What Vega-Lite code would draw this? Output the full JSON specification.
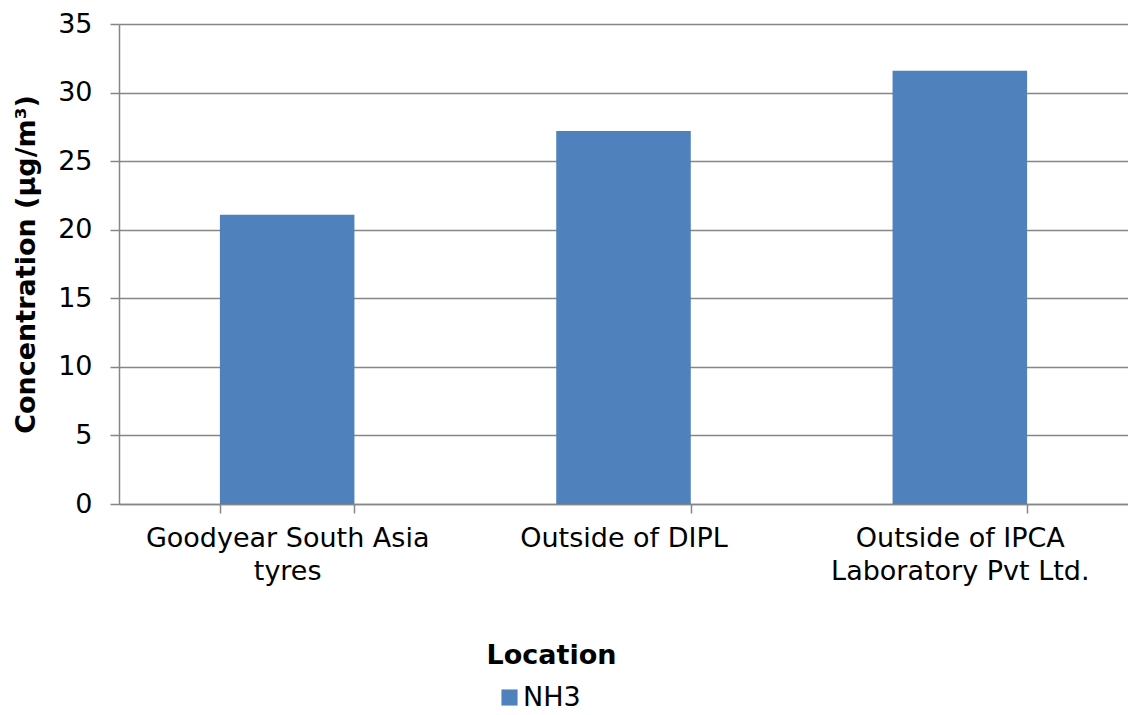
{
  "$schema": "https://vega.github.io/schema/vega-lite/v6.json",
  "width": 1009,
  "height": 480,
  "autosize": {"type": "none"},
  "padding": {"left": 119, "top": 24, "right": 0, "bottom": 211},
  "background": "white",
  "data": {
    "values": [
      {"location": "Goodyear South Asia tyres", "series": "NH3", "value": 21.1},
      {"location": "Outside of DIPL", "series": "NH3", "value": 27.2},
      {"location": "Outside of IPCA Laboratory Pvt Ltd.", "series": "NH3", "value": 31.6}
    ]
  },
  "config": {
    "view": {"stroke": null},
    "font": "DejaVu Sans",
    "axis": {
      "labelFont": "DejaVu Sans",
      "titleFont": "DejaVu Sans",
      "labelColor": "black",
      "titleColor": "black",
      "domainColor": "#868686",
      "tickColor": "#868686",
      "gridColor": "#868686",
      "domainWidth": 1.5,
      "tickWidth": 1.5,
      "gridWidth": 1.5,
      "labelLimit": 0
    }
  },
  "mark": {"type": "bar", "color": "#4F81BD"},
  "encoding": {
    "x": {
      "field": "location",
      "type": "nominal",
      "sort": null,
      "scale": {"paddingInner": 0.6, "paddingOuter": 0.3},
      "axis": {
        "title": "Location",
        "titleFontSize": 27,
        "titleFontWeight": "bold",
        "titleX": 432,
        "titleY": 151,
        "titleBaseline": "middle",
        "labelAngle": 0,
        "labelFontSize": 27,
        "labelPadding": 12,
        "labelLineHeight": 33,
        "tickBand": "extent",
        "tickSize": 9,
        "labelExpr": "datum.value == 'Goodyear South Asia tyres' ? ['Goodyear South Asia', 'tyres'] : datum.value == 'Outside of IPCA Laboratory Pvt Ltd.' ? ['Outside of IPCA', 'Laboratory Pvt Ltd.'] : datum.value"
      }
    },
    "y": {
      "field": "value",
      "type": "quantitative",
      "scale": {"domain": [0, 35]},
      "axis": {
        "title": "Concentration (µg/m³)",
        "titleFontSize": 27,
        "titleFontWeight": "bold",
        "titlePadding": 17,
        "values": [0, 5, 10, 15, 20, 25, 30, 35],
        "labelFontSize": 27,
        "labelPadding": 18,
        "tickSize": 9,
        "grid": true
      }
    },
    "fill": {
      "field": "series",
      "type": "nominal",
      "scale": {"range": ["#4F81BD"]},
      "legend": {
        "title": null,
        "orient": "none",
        "legendX": 377,
        "legendY": 660,
        "symbolType": "square",
        "symbolSize": 260,
        "labelFontSize": 27,
        "labelFont": "DejaVu Sans",
        "labelColor": "black",
        "labelOffset": 0
      }
    }
  }
}
